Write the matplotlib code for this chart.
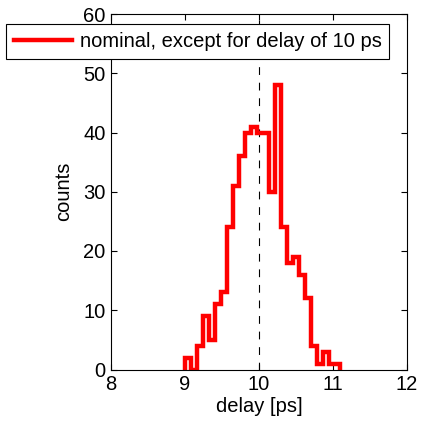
import numpy as np
import matplotlib
matplotlib.use("Agg")
import matplotlib.pyplot as plt
from matplotlib.lines import Line2D

plt.rcParams['font.family'] = ['Liberation Sans', 'DejaVu Sans']

# histogram of delays (counts per bin)
counts = [2, 0, 4, 9, 5, 11, 13, 24, 31, 36, 40, 41, 40, 40, 30, 48,
          24, 18, 19, 16, 12, 4, 1, 3, 1, 1]
bin_start = 9.0
bin_width = 0.0808
edges = bin_start + bin_width * np.arange(len(counts) + 1)

nominal_delay = 10
label = "nominal, except for delay of 10 ps"
fs = 14.5

fig = plt.figure(figsize=(4.22, 4.24), dpi=100)
ax = fig.add_axes([111 / 422, (424 - 369.5) / 424, 296 / 422, (369.5 - 14) / 424])

ax.plot([nominal_delay, nominal_delay], [0, 60], color="black", lw=0.8,
        dashes=(7, 7), zorder=1)
ax.stairs(counts, edges, baseline=0, color="red", lw=3.2, zorder=2)

ax.set_xlim(8, 12)
ax.set_ylim(0, 60)
ax.set_xticks([8, 9, 10, 11, 12])
ax.set_yticks(range(0, 61, 10))
ax.tick_params(direction="in", top=True, right=True, length=4, width=0.8,
               labelsize=fs, pad=4)
for sp in ax.spines.values():
    sp.set_linewidth(0.8)
ax.set_xlabel("delay [ps]", fontsize=fs, labelpad=2)
ax.set_ylabel("counts", fontsize=fs, labelpad=7)

handle = Line2D([], [], color="red", lw=3.2)
leg = fig.legend([handle], [label], loc="upper left",
                 bbox_to_anchor=(6 / 422, 1 - 24 / 424), fontsize=fs,
                 frameon=True, fancybox=False, borderaxespad=0,
                 handlelength=2.9, handletextpad=0.35, borderpad=0.4)
leg.get_frame().set_edgecolor("black")
leg.get_frame().set_linewidth(0.8)
leg.get_frame().set_alpha(1)

fig.savefig("out.png", dpi=100)
